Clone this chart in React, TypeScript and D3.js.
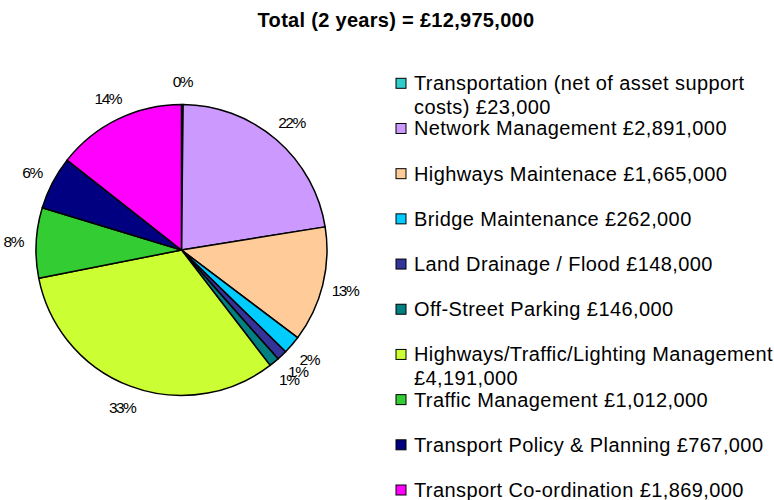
import React from "react";
import * as d3 from "d3";

const categories = [
  ["Transportation (net of asset support", "costs) £23,000"],
  ["Network Management £2,891,000"],
  ["Highways Maintenace £1,665,000"],
  ["Bridge Maintenance £262,000"],
  ["Land Drainage / Flood £148,000"],
  ["Off-Street Parking £146,000"],
  ["Highways/Traffic/Lighting Management", "£4,191,000"],
  ["Traffic Management £1,012,000"],
  ["Transport Policy & Planning £767,000"],
  ["Transport Co-ordination £1,869,000"],
];
const values = [23000, 2891000, 1665000, 262000, 148000, 146000, 4191000, 1012000, 767000, 1869000];
// percentage labels as printed on the chart
const pctLabels = ["0%", "22%", "13%", "2%", "1%", "1%", "33%", "8%", "6%", "14%"];
const colors = ["#33CCCC", "#CC99FF", "#FFCC99", "#00CCFF", "#333399", "#008080", "#CCFF33", "#33CC33", "#000080", "#FF00FF"];
const title = "Total (2 years) = £12,975,000";

export default function App() {
  const width = 774;
  const height = 500;
  const cx = 181.5;
  const cy = 250;
  const r = 145.5;

  const pie = d3.pie<number>().sort(null).value((d) => d);
  const arcs = pie(values);
  const arc = d3.arc<d3.PieArcDatum<number>>().innerRadius(0).outerRadius(r);
  const labelArc = d3.arc<d3.PieArcDatum<number>>().innerRadius(r + 23).outerRadius(r + 23);

  const legendY = d3.scaleLinear().domain([0, categories.length - 1]).range([83.3, 490]);

  return (
    <svg width={width} height={height} style={{ position: "absolute", left: 0, top: 0, fontFamily: "Liberation Sans, Arial, sans-serif" }}>
      <rect width={width} height={height} fill="#fff" />
      <text x={396} y={20} textAnchor="middle" dominantBaseline="central" fontWeight="bold" fontSize={20} letterSpacing={0.3}>
        {title}
      </text>
      <g transform={`translate(${cx},${cy})`}>
        {arcs.map((a, i) => (
          <path key={i} d={arc(a) || ""} fill={colors[i]} stroke="#000" strokeWidth={1.5} strokeLinejoin="round" />
        ))}
        {arcs.map((a, i) => {
          const [x, y] = labelArc.centroid(a);
          return (
            <text key={i} x={x} y={y} textAnchor="middle" dominantBaseline="central" fontSize={15.5} letterSpacing={-1.5}>
              {pctLabels[i]}
            </text>
          );
        })}
      </g>
      <g>
        {categories.map((lines, i) => {
          const y = legendY(i);
          return (
            <g key={i}>
              <rect x={396} y={y - 5} width={10} height={10} fill={colors[i]} stroke="#000" strokeWidth={1} />
              {lines.map((t, j) => (
                <text key={j} x={414} y={y + j * 24} dominantBaseline="central" fontSize={20} letterSpacing={0.4}>
                  {t}
                </text>
              ))}
            </g>
          );
        })}
      </g>
    </svg>
  );
}
